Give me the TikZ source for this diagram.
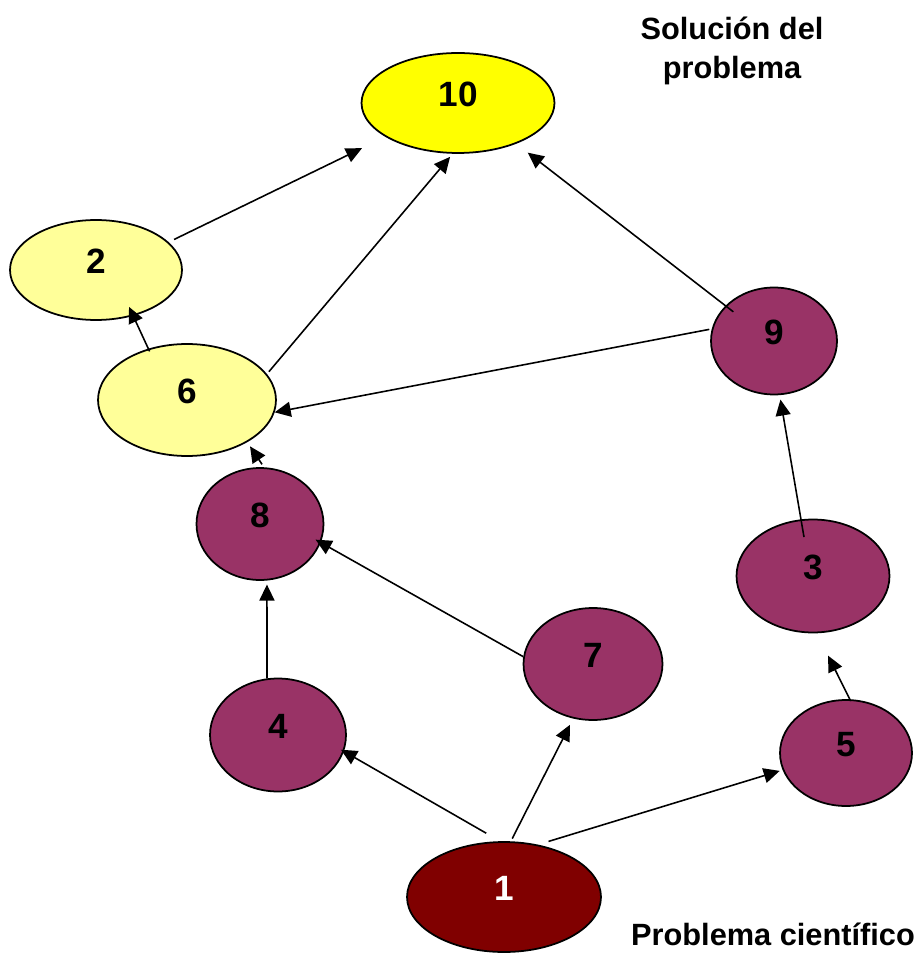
\documentclass[tikz,border=0pt]{standalone}
\usepackage{fontspec}
\setmainfont{Liberation Sans}
\usepackage{xcolor}
\definecolor{cSol}{HTML}{FFFF00}
\definecolor{cPart}{HTML}{FFFF99}
\definecolor{cStep}{HTML}{993366}
\definecolor{cProb}{HTML}{800000}
\usetikzlibrary{arrows.meta,shapes.geometric}
\tikzset{
  node-oval/.style={draw=black,line width=1pt,ellipse,inner sep=0pt,
    text depth=0.36cm,font=\fontsize{20}{24}\selectfont\bfseries},
  % amarillo = solucion / partes, morado = pasos, rojo oscuro = problema
  node-sol/.style={node-oval,fill=cSol},
  node-part/.style={node-oval,fill=cPart},
  node-step/.style={node-oval,fill=cStep},
  node-prob/.style={node-oval,fill=cProb,text=white},
  note/.style={font=\fontsize{17.5}{22.5}\selectfont\bfseries,align=center,
    inner sep=0pt},
  arrow/.style={-{Triangle[length=0.32cm,width=0.3cm]},line width=0.9pt,
    draw=black},
}
\begin{document}
\begin{tikzpicture}[x=0.02cm,y=-0.02cm]
  \useasboundingbox (0,0) rectangle (920,955);
  \node[node-sol,minimum width=3.86cm,minimum height=2cm]     (n10) at (458,103) {10};
  \node[node-part,minimum width=3.44cm,minimum height=2cm]    (n2)  at (96,270)  {2};
  \node[node-part,minimum width=3.56cm,minimum height=2.24cm] (n6)  at (187,400) {6};
  \node[node-step,minimum width=2.52cm,minimum height=2.14cm] (n9)  at (774,341) {9};
  \node[node-step,minimum width=2.54cm,minimum height=2.24cm] (n8)  at (260,524) {8};
  \node[node-step,minimum width=3.06cm,minimum height=2.26cm] (n3)  at (813,576) {3};
  \node[node-step,minimum width=2.78cm,minimum height=2.24cm] (n7)  at (593,664) {7};
  \node[node-step,minimum width=2.72cm,minimum height=2.26cm] (n4)  at (278,735) {4};
  \node[node-step,minimum width=2.64cm,minimum height=2.12cm] (n5)  at (846,753) {5};
  \node[node-prob,minimum width=3.88cm,minimum height=2.2cm]  (n1)  at (504,897) {1};
  \node[note]              (sol)  at (732,51)  {Solución del\\problema};
  \node[note,anchor=base]  (prob) at (773,945) {Problema científico};
  \draw[arrow,shorten <=0.12cm,shorten >=0.52cm]  (n2.21)   -- (n10.205);
  \draw[arrow,shorten <=0.06cm,shorten >=0.08cm]  (n6.18)   -- (n10.264);
  \draw[arrow,shorten <=-0.2cm,shorten >=0.29cm]  (n9.144)  -- (n10.-35);
  \draw[arrow,shorten <=0.05cm]                   (n9.169)  -- (n6.-8);
  \draw[arrow,shorten <=-0.06cm,shorten >=-0.2cm] (n6.127)  -- (n2.-51);
  \draw[arrow,shorten <=0.07cm,shorten >=0.1cm]   (n8.86)   -- (n6.-35);
  \draw[arrow,shorten >=-0.12cm]                  (n7.174)  -- (n8.-17);
  \draw[arrow,shorten >=0.08cm]                   (n4.101)  -- (n8.-83);
  \draw[arrow,shorten <=0.32cm,shorten >=-0.07cm] (n1.94)   -- (n4.-14);
  \draw[arrow,shorten <=0.06cm,shorten >=0.14cm]  (n1.83)   -- (n7.250);
  \draw[arrow,shorten <=0.22cm,shorten >=0.06cm]  (n1.57)   -- (n5.195);
  \draw[arrow,shorten <=-0.36cm,shorten >=0.09cm] (n3.102)  -- (n9.-84);
  \draw[arrow,shorten <=-0.04cm,shorten >=0.5cm]  (n5.86)   -- (n3.-86);
\end{tikzpicture}
\end{document}
